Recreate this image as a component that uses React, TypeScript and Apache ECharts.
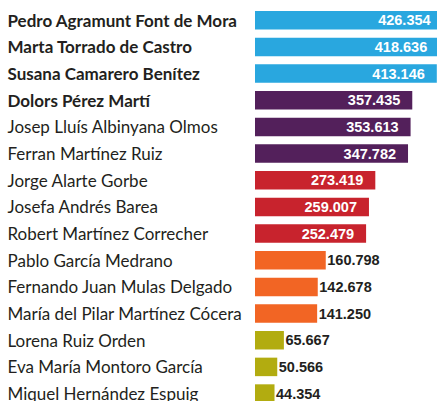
import React, { useEffect, useRef } from "react";
import * as echarts from "echarts";

const names = [
  "Pedro Agramunt Font de Mora",
  "Marta Torrado de Castro",
  "Susana Camarero Benítez",
  "Dolors Pérez Martí",
  "Josep Lluís Albinyana Olmos",
  "Ferran Martínez Ruiz",
  "Jorge Alarte Gorbe",
  "Josefa Andrés Barea",
  "Robert Martínez Correcher",
  "Pablo García Medrano",
  "Fernando Juan Mulas Delgado",
  "María del Pilar Martínez Cócera",
  "Lorena Ruiz Orden",
  "Eva María Montoro García",
  "Miquel Hernández Espuig",
];

const votes = [
  426354, 418636, 413146, 357435, 353613, 347782, 273419, 259007, 252479,
  160798, 142678, 141250, 65667, 50566, 44354,
];

const parties = [
  "PP", "PP", "PP", "COMPROMIS", "COMPROMIS", "COMPROMIS", "PSOE", "PSOE", "PSOE",
  "CS", "CS", "CS", "UPYD", "UPYD", "UPYD",
];

const elected = [true, true, true, true, false, false, false, false, false, false, false, false, false, false, false];

const partyColors: Record<string, string> = {
  PP: "#29A7DF",
  COMPROMIS: "#53205B",
  PSOE: "#C8232D",
  CS: "#F26524",
  UPYD: "#B2AC10",
};

const insideLabelParties = ["PP", "COMPROMIS", "PSOE"];

const fmt = (v: number) => {
  const s = String(v);
  return s.replace(/\B(?=(\d{3})+(?!\d))/g, ".");
};

export default function App() {
  const ref = useRef<HTMLDivElement>(null);
  useEffect(() => {
    if (!ref.current) return;
    const chart = echarts.init(ref.current, undefined, { renderer: "svg" });
    const valueFont = "'Liberation Sans', Arial, sans-serif";
    const nameFont = "Lato, sans-serif";
    chart.setOption({
      animation: false,
      grid: {
        left: 255,
        top: 6.9,
        width: 198,
        height: 400,
        containLabel: false,
        outerBoundsMode: "none",
      },
      xAxis: {
        type: "value",
        min: 0,
        max: 450000,
        show: false,
      },
      yAxis: {
        type: "category",
        data: names,
        inverse: true,
        axisLine: { show: false },
        axisTick: { show: false },
        splitLine: { show: false },
        axisLabel: {
          align: "left",
          margin: 247.5,
          color: "#231F20",
          fontFamily: nameFont,
          fontSize: 17,
          formatter: (value: string, idx: number) =>
            elected[idx] ? `{b|${value}}` : `{r|${value}}`,
          rich: {
            b: { fontWeight: "bold", fontSize: 17, fontFamily: nameFont, color: "#231F20" },
            r: { fontWeight: "normal", fontSize: 17, fontFamily: nameFont, color: "#231F20" },
          },
        },
      },
      series: [
        {
          type: "bar",
          barWidth: 18.5,
          clip: false,
          data: votes.map((v, i) => {
            const inside = insideLabelParties.includes(parties[i]);
            return {
              value: v,
              itemStyle: { color: partyColors[parties[i]] },
              label: {
                show: true,
                position: inside ? "insideRight" : "right",
                distance: inside ? 12 : 1.5,
                color: inside ? "#FFFFFF" : "#231F20",
                fontFamily: valueFont,
                fontWeight: "bold",
                fontSize: 14.5,
                formatter: () => fmt(v),
              },
            };
          }),
        },
      ],
    });
    return () => chart.dispose();
  }, []);
  return (
    <div
      ref={ref}
      style={{ position: "fixed", left: 0, top: 0, width: 437, height: 401, background: "#fff" }}
    />
  );
}
